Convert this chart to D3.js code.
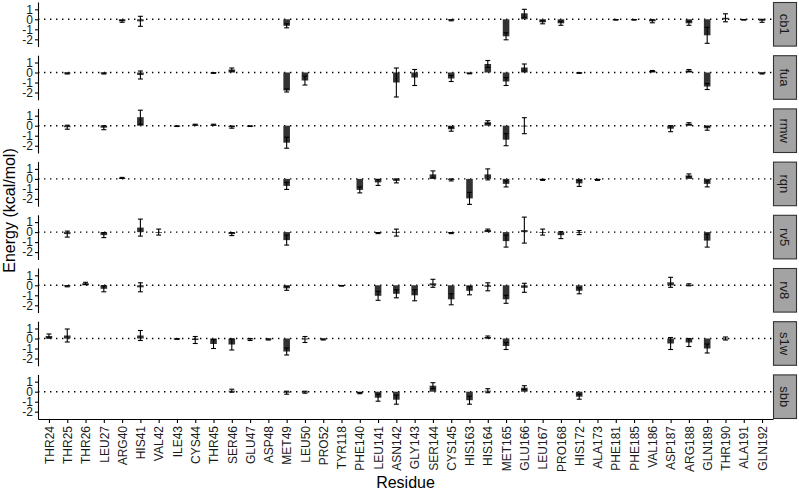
<!DOCTYPE html>
<html>
<head>
<meta charset="utf-8">
<script src="https://cdn.jsdelivr.net/npm/d3@7/dist/d3.min.js"></script>
<style>
  body { margin: 0; background: #fff; }
  svg text { font-family: "Liberation Sans", Arial, Helvetica, sans-serif; }
</style>
</head>
<body>
<div id="chart-container"></div>
<script>
// Residues along the x axis
const residues = ['THR24','THR25','THR26','LEU27','ARG40','HIS41','VAL42','ILE43','CYS44','THR45',
  'SER46','GLU47','ASP48','MET49','LEU50','PRO52','TYR118','PHE140','LEU141','ASN142',
  'GLY143','SER144','CYS145','HIS163','HIS164','MET165','GLU166','LEU167','PRO168','HIS172',
  'ALA173','PHE181','PHE185','VAL186','ASP187','ARG188','GLN189','THR190','ALA191','GLN192'];

const facets = ['cb1','fua','rmw','rqn','rv5','rv8','s1w','sbb'];
const yTicks = [1, 0, -1, -2];

// mean energy per residue (null = not present) and error
const cb1Mean = [null,null,null,null,-0.2,-0.2,null,null,null,null,
  null,null,null,-0.65,null,null,null,null,null,null,
  null,null,-0.1,null,null,-1.7,0.6,-0.3,-0.4,null,
  null,-0.05,-0.05,-0.2,null,-0.4,-1.6,0.15,-0.05,-0.15];
const cb1Err = [null,null,null,null,0.1,0.5,null,null,null,null,
  null,null,null,0.2,null,null,null,null,null,null,
  null,null,0.05,null,null,0.35,0.4,0.15,0.2,null,
  null,0.03,0.03,0.15,null,0.2,0.8,0.4,0.03,0.15];

const fuaMean = [null,-0.1,null,-0.1,null,-0.25,null,null,null,-0.05,
  0.3,null,null,-1.8,-0.8,null,null,null,null,-1.0,
  -0.5,null,-0.6,-0.1,0.85,-0.9,0.5,null,null,-0.05,
  null,null,null,0.15,null,0.2,-1.4,null,null,-0.1];
const fuaErr = [null,0.05,null,0.05,null,0.4,null,null,null,0.03,
  0.15,null,null,0.15,0.45,null,null,null,null,1.45,
  0.8,null,0.3,0.03,0.35,0.4,0.35,null,null,0.03,
  null,null,null,0.05,null,0.1,0.3,null,null,0.05];

const rmwMean = [null,-0.15,null,-0.2,null,0.85,null,-0.05,0.1,0.1,
  -0.15,-0.05,null,-1.7,null,null,null,null,null,null,
  null,null,-0.35,null,0.35,-1.4,0.0,null,null,null,
  null,null,null,null,-0.3,0.2,-0.25,null,null,null];
const rmwErr = [null,0.2,null,0.2,null,0.7,null,0.03,0.05,0.05,
  0.1,0.03,null,0.55,null,null,null,null,null,null,
  null,null,0.2,null,0.15,0.6,0.8,null,null,null,
  null,null,null,null,0.3,0.1,0.2,null,null,null];

const rqnMean = [null,null,null,null,0.1,null,null,null,null,null,
  null,null,null,-0.7,null,null,null,-1.1,-0.35,-0.2,
  null,0.45,-0.1,-1.95,0.45,-0.5,null,-0.1,null,-0.45,
  -0.1,null,null,null,null,0.35,-0.5,null,null,null];
const rqnErr = [null,null,null,null,0.05,null,null,null,null,null,
  null,null,null,0.35,null,null,null,0.3,0.3,0.2,
  null,0.35,0.1,0.6,0.55,0.3,null,0.05,null,0.3,
  0.05,null,null,null,null,0.15,0.3,null,null,null];

const rv5Mean = [null,-0.2,null,-0.3,null,0.45,0.0,null,null,null,
  -0.2,null,null,-0.8,null,null,null,null,-0.1,-0.05,
  null,null,-0.1,null,0.2,-0.9,0.2,0.0,-0.3,-0.05,
  null,null,null,null,null,null,-0.85,null,null,null];
const rv5Err = [null,0.3,null,0.25,null,0.85,0.3,null,null,null,
  0.15,null,null,0.5,null,null,null,null,0.05,0.35,
  null,null,0.05,null,0.1,0.6,1.3,0.3,0.35,0.2,
  null,null,null,null,null,null,0.65,null,null,null];

const rv8Mean = [null,-0.1,0.2,-0.35,null,-0.2,null,null,null,null,
  null,null,null,-0.3,null,null,-0.05,null,-1.05,-0.85,
  -1.0,0.2,-1.4,-0.55,-0.15,-1.4,-0.25,null,null,-0.55,
  null,null,null,null,0.3,0.05,null,null,null,null];
const rv8Err = [null,0.05,0.1,0.3,null,0.45,null,null,null,null,
  null,null,null,0.2,null,null,0.03,null,0.45,0.4,
  0.55,0.4,0.55,0.4,0.4,0.4,0.45,null,null,0.3,
  null,null,null,null,0.5,0.1,null,null,null,null];

const s1wMean = [0.25,0.3,null,null,null,0.3,null,-0.05,-0.15,-0.55,
  -0.6,-0.1,-0.1,-1.3,-0.1,-0.1,null,null,null,null,
  null,null,null,null,0.15,-0.75,null,null,null,null,
  null,null,null,null,-0.5,-0.4,-1.0,0.0,null,null];
const s1wErr = [0.2,0.65,null,null,null,0.5,null,0.03,0.35,0.45,
  0.55,0.1,0.05,0.35,0.3,0.05,null,null,null,null,
  null,null,null,null,0.1,0.35,null,null,null,null,
  null,null,null,null,0.6,0.4,0.45,0.15,null,null];

const sbbMean = [null,null,null,null,null,null,null,null,null,null,
  0.1,null,null,-0.1,-0.05,null,null,-0.15,-0.6,-0.8,
  null,0.6,null,-0.85,0.1,null,0.4,null,null,-0.5,
  null,null,null,null,null,null,null,null,null,null];
const sbbErr = [null,null,null,null,null,null,null,null,null,null,
  0.15,null,null,0.15,0.1,null,null,0.05,0.35,0.45,
  null,0.3,null,0.4,0.2,null,0.2,null,null,0.25,
  null,null,null,null,null,null,null,null,null,null];

const facetMeans = [cb1Mean, fuaMean, rmwMean, rqnMean, rv5Mean, rv8Mean, s1wMean, sbbMean];
const facetErrs = [cb1Err, fuaErr, rmwErr, rqnErr, rv5Err, rv8Err, s1wErr, sbbErr];

const config = {
  width: 799, height: 491,
  left: 38, right: 773,
  top: 2, panelHeight: 44.6, panelGap: 8.6,
  stripWidth: 24,
  barFill: '#333333'
};

const svg = d3.select('#chart-container')
  .append('svg')
  .attr('width', config.width)
  .attr('height', config.height);

const x = d3.scalePoint()
  .domain(residues)
  .range([config.left, config.right])
  .padding(0.6);
const step = x.step();

const y = d3.scaleLinear()
  .domain([-2.73, 1.73])
  .range([config.panelHeight, 0]);

facets.forEach((name, i) => {
  const top = config.top + i * (config.panelHeight + config.panelGap);
  const g = svg.append('g').attr('transform', `translate(0,${top})`);

  const rows = residues.map((r, j) => ({ r, mean: facetMeans[i][j], err: facetErrs[i][j] }))
    .filter(d => d.mean !== null);

  // zero reference line
  g.append('line')
    .attr('x1', config.left).attr('x2', config.right)
    .attr('y1', y(0)).attr('y2', y(0))
    .attr('stroke', '#000')
    .attr('stroke-width', 1.4)
    .attr('stroke-dasharray', '1.4,4.6');

  // bars
  const bw = step * 0.36;
  g.selectAll('.bar')
    .data(rows)
    .enter()
    .append('rect')
    .attr('class', 'bar')
    .attr('x', d => x(d.r) - bw / 2)
    .attr('width', bw)
    .attr('y', d => y(Math.max(0, d.mean)))
    .attr('height', d => Math.max(0.8, Math.abs(y(d.mean) - y(0))))
    .attr('fill', config.barFill);

  // error bars
  const cw = step * 0.27;
  const eb = g.selectAll('.err')
    .data(rows.filter(d => d.err))
    .enter()
    .append('g')
    .attr('class', 'err')
    .attr('stroke', '#000')
    .attr('stroke-width', 1.1);
  eb.append('line')
    .attr('x1', d => x(d.r)).attr('x2', d => x(d.r))
    .attr('y1', d => y(d.mean + d.err)).attr('y2', d => y(d.mean - d.err));
  eb.append('line')
    .attr('x1', d => x(d.r) - cw / 2).attr('x2', d => x(d.r) + cw / 2)
    .attr('y1', d => y(d.mean + d.err)).attr('y2', d => y(d.mean + d.err));
  eb.append('line')
    .attr('x1', d => x(d.r) - cw / 2).attr('x2', d => x(d.r) + cw / 2)
    .attr('y1', d => y(d.mean - d.err)).attr('y2', d => y(d.mean - d.err));

  // left axis
  const ay = g.append('g')
    .attr('transform', `translate(${config.left},0)`)
    .call(d3.axisLeft(y).tickValues(yTicks).tickFormat(d => String(d)).tickSize(3).tickSizeOuter(0));
  ay.select('.domain').attr('stroke', '#000').attr('stroke-width', 1.1);
  ay.selectAll('.tick line').attr('stroke', '#000').attr('stroke-width', 1.1);
  ay.selectAll('.tick text')
    .attr('x', -5)
    .attr('fill', '#1a1a1a')
    .style('font-size', '12px')
    .style('font-family', '"Liberation Sans", Arial, sans-serif');

  // strip on the right
  g.append('rect')
    .attr('x', config.right + 0.5)
    .attr('y', 0.5)
    .attr('width', config.stripWidth - 1)
    .attr('height', config.panelHeight - 1)
    .attr('fill', '#a3a3a3')
    .attr('stroke', '#333')
    .attr('stroke-width', 1.1);
  g.append('text')
    .attr('transform', `translate(${config.right + config.stripWidth / 2},${config.panelHeight / 2}) rotate(90)`)
    .attr('text-anchor', 'middle')
    .attr('dy', '0.35em')
    .attr('fill', '#1a1a1a')
    .style('font-size', '13px')
    .text(name);

  // bottom axis on the last panel
  if (i === facets.length - 1) {
    const ax = g.append('g')
      .attr('transform', `translate(0,${config.panelHeight})`)
      .call(d3.axisBottom(x).tickSize(4).tickSizeOuter(0));
    ax.select('.domain').attr('stroke', '#000').attr('stroke-width', 1.1);
    ax.selectAll('.tick line').attr('stroke', '#000').attr('stroke-width', 1.1);
    ax.selectAll('.tick text')
      .attr('transform', 'rotate(-90)')
      .attr('x', -7)
      .attr('y', 0)
      .attr('dy', '0.35em')
      .attr('text-anchor', 'end')
      .attr('fill', '#1a1a1a')
      .style('font-size', '12px')
      .style('font-family', '"Liberation Sans", Arial, sans-serif');
  }
});

const panelsBottom = config.top + facets.length * config.panelHeight + (facets.length - 1) * config.panelGap;

svg.append('text')
  .attr('x', (config.left + config.right) / 2)
  .attr('y', 488)
  .attr('text-anchor', 'middle')
  .attr('fill', '#000')
  .style('font-size', '16px')
  .text('Residue');

svg.append('text')
  .attr('transform', `translate(15,${(config.top + panelsBottom) / 2}) rotate(-90)`)
  .attr('text-anchor', 'middle')
  .attr('fill', '#000')
  .style('font-size', '16px')
  .text('Energy (kcal/mol)');
</script>
</body>
</html>
